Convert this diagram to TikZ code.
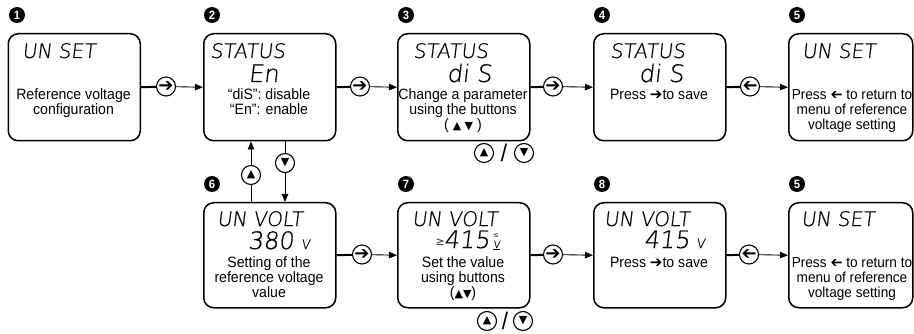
\documentclass[tikz,border=0pt]{standalone}
\usepackage{fontspec}
\setmainfont[FakeStretch=0.94]{Liberation Sans}
\newfontfamily\lcdfont{DejaVuSans-ExtraLight}[Extension=.ttf,FakeSlant=0.12,FakeBold=0.6]
\newfontfamily\symfont{DejaVu Sans}
\usetikzlibrary{arrows.meta,calc}
\newcommand{\rarr}{{\symfont ➔}}
\newcommand{\larr}{{\symfont\reflectbox{➔}}}
\begin{document}
\begin{tikzpicture}[x=1pt,y=-1pt,
  panel/.style={draw,line width=1.5pt,rounded corners=10pt,anchor=north west,inner sep=0pt},
  badge/.style={circle,fill=black,text=white,inner sep=0pt,minimum size=16pt,font=\bfseries\fontsize{12}{12}\selectfont},
  btn/.style={circle,draw,line width=1.1pt,inner sep=0pt,minimum size=19pt,font=\symfont\fontsize{11}{11}\selectfont},
  abtn/.style={btn,font=\symfont\fontsize{18}{18}\selectfont},
  body/.style={align=center,inner sep=0pt,anchor=base,font=\fontsize{15}{15}\selectfont},
  lcdA/.style={inner sep=0pt,anchor=base west,font=\lcdfont\fontsize{20}{20}\selectfont},
  lcdB/.style={inner sep=0pt,anchor=base east,font=\lcdfont\fontsize{24}{24}\selectfont},
  unit/.style={inner sep=0pt,anchor=base west,font=\lcdfont\fontsize{13}{13}\selectfont},
  thickln/.style={line width=2pt},
  arr/.style={line width=0.9pt,-{Triangle[length=8pt,width=6.5pt]}},
  thinln/.style={line width=0.9pt}]
\useasboundingbox (0,0) rectangle (914,334);
% ---------- top row boxes ----------
\node[panel,minimum width=132pt,minimum height=107pt] (b1) at (7.5,33) {};
\node[panel,minimum width=132pt,minimum height=107pt] (b2) at (203,33) {};
\node[panel,minimum width=132pt,minimum height=107pt] (b3) at (397,33) {};
\node[panel,minimum width=132pt,minimum height=107pt] (b4) at (593,33) {};
\node[panel,minimum width=124pt,minimum height=107pt] (b5) at (788,33) {};
% ---------- bottom row boxes ----------
\node[panel,minimum width=132pt,minimum height=105pt] (b6) at (203,202) {};
\node[panel,minimum width=132pt,minimum height=105pt] (b7) at (397,202) {};
\node[panel,minimum width=132pt,minimum height=105pt] (b8) at (593,202) {};
\node[panel,minimum width=124pt,minimum height=105pt] (b9) at (788,202) {};
% ---------- badges ----------
\node[badge] (n1) at (17,15) {1};
\node[badge] (n2) at (212,15) {2};
\node[badge] (n3) at (406,15) {3};
\node[badge] (n4) at (602,15) {4};
\node[badge] (n5) at (797,15) {5};
\node[badge] (n6) at (212,184) {6};
\node[badge] (n7) at (406,184) {7};
\node[badge] (n8) at (602,184) {8};
\node[badge] (n9) at (797,184) {5};
% ---------- LCD texts ----------
\node[lcdA] (t1a) at (22,58) {UN SET};
\node[lcdA] (t2a) at (210,58) {STATUS};
\node[lcdB] (t2b) at (279,82) {En};
\node[lcdA] (t3a) at (413,58) {STATUS};
\node[lcdB] (t3b) at (492,82) {di S};
\node[lcdA] (t4a) at (610,58) {STATUS};
\node[lcdB] (t4b) at (684,82) {di S};
\node[lcdA] (t5a) at (802,58) {UN SET};
\node[lcdA] (t6a) at (217,226) {UN VOLT};
\node[lcdB] (t6b) at (294,249) {380};
\node[unit] (t6c) at (301,249) {V};
\node[lcdA] (t7a) at (412,226) {UN VOLT};
\node[lcdB] (t7b) at (490,248) {415};
\node[inner sep=0pt,anchor=base east,font=\symfont\fontsize{11}{11}\selectfont,text=black!80] (t7l) at (445,245) {≥};
\node[inner sep=0pt,anchor=base west,font=\symfont\fontsize{7}{7}\selectfont,text=black!80] (t7r) at (493,238) {≤};
\node[inner sep=0pt,anchor=base west,font=\lcdfont\fontsize{10}{10}\selectfont] (t7v) at (493,248) {\underline{V}};
\node[lcdA] (t8a) at (604,226) {UN VOLT};
\node[lcdB] (t8b) at (690,248) {415};
\node[unit] (t8c) at (696,248) {V};
\node[lcdA] (t9a) at (801,226) {UN SET};
% ---------- body texts (anchored at the baseline of the last line) ----------
\node[body] (d1) at (73.5,115) {Reference voltage\\configuration};
\node[body] (d2) at (269,115) {“diS”: disable\\“En”: enable};
\node[body] (d3) at (463,130) {Change a parameter\\using the buttons\\( {\symfont\fontsize{11}{11}\selectfont ▲ ▼} )};
\node[body] (d4) at (659,100) {Press \rarr to save};
\node[body,font=\fontsize{14.5}{15}\selectfont] (d5) at (852,130) {Press \larr\ to return to\\menu of reference\\voltage setting};
\node[body] (d6) at (269,297) {Setting of the\\reference voltage\\value};
\node[body] (d7) at (463,297) {Set the value\\using buttons\\({\symfont\fontsize{11}{11}\selectfont ▲▼})};
\node[body] (d8) at (659,267) {Press \rarr to save};
\node[body,font=\fontsize{14.5}{15}\selectfont] (d9) at (852,297) {Press \larr\ to return to\\menu of reference\\voltage setting};
% ---------- horizontal connectors ----------
\node[abtn] (c12) at (166,86.5) {➔};
\node[abtn] (c23) at (360,86.5) {➔};
\node[abtn] (c34) at (553,86.5) {➔};
\node[abtn] (c45) at (750,86.5) {\reflectbox{➔}};
\node[abtn] (c67) at (362,254.5) {➔};
\node[abtn] (c78) at (553,254.5) {➔};
\node[abtn] (c89) at (749,254.5) {\reflectbox{➔}};
\foreach \a/\c/\b in {b1/c12/b2,b2/c23/b3,b3/c34/b4,b4/c45/b5,b6/c67/b7,b7/c78/b8,b8/c89/b9}{
  \draw[thickln] (\a.east) -- (\c);
  \draw[arr] (\c) -- (\b.west);
}
% ---------- vertical connectors ----------
\node[btn] (up) at (251,175) {▲};
\node[btn] (dn) at (285,163) {▼};
\draw[thinln] (b6.north -| up) -- (up);
\draw[arr] (up) -- (up |- b2.south);
\draw[thinln] (dn |- b2.south) -- (dn);
\draw[arr] (dn) -- (dn |- b6.north);
% ---------- button hints ----------
\node[btn] (h3u) at (484,153) {▲};
\node[btn] (h3d) at (524,153) {▼};
\node[inner sep=0pt,font=\fontsize{24}{24}\selectfont] (h3s) at (504,153) {/};
\node[btn] (h7u) at (487,321) {▲};
\node[btn] (h7d) at (523,321) {▼};
\node[inner sep=0pt,font=\fontsize{24}{24}\selectfont] (h7s) at (505,321) {/};
\end{tikzpicture}
\end{document}
